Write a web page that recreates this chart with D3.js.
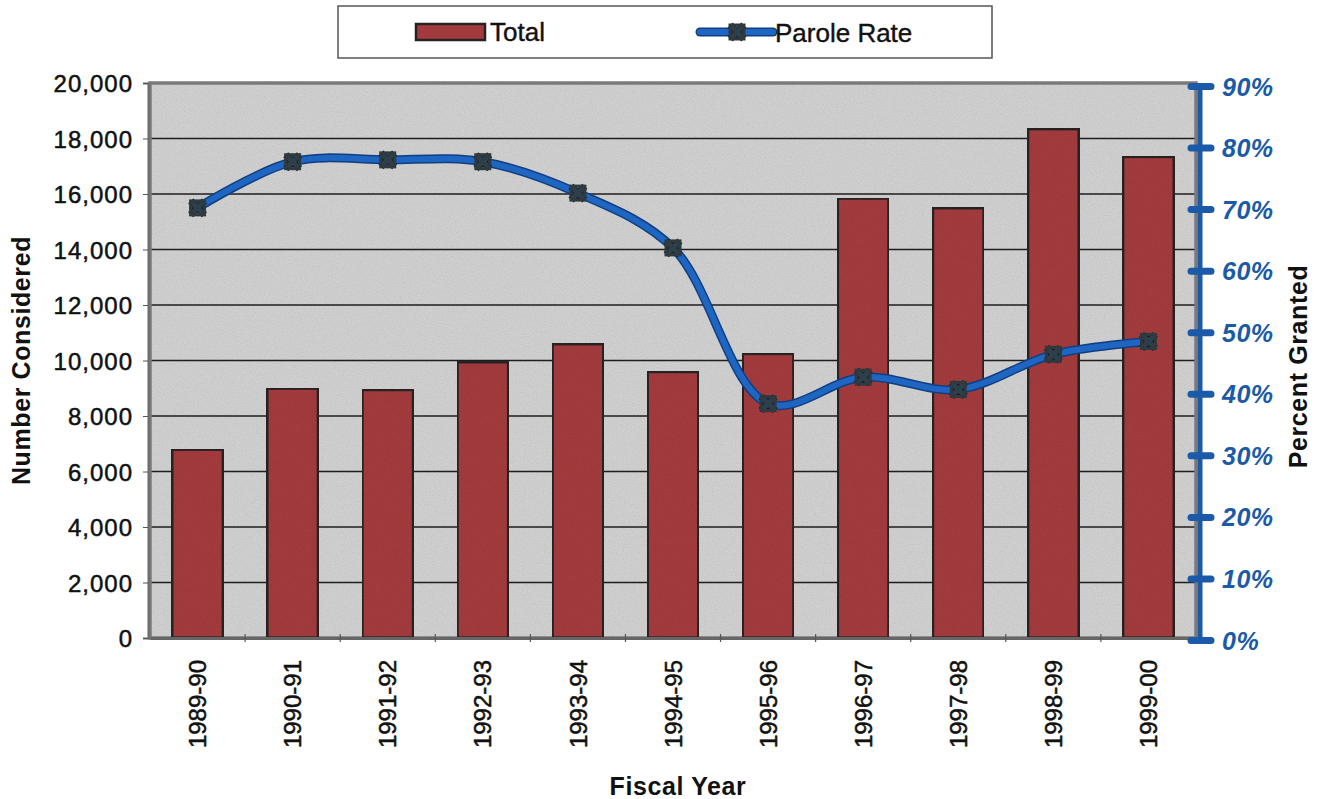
<!DOCTYPE html>
<html>
<head>
<meta charset="utf-8">
<script src="https://cdn.jsdelivr.net/npm/d3@7"></script>
<style>
  html, body { margin: 0; padding: 0; background: #fff; }
  svg { display: block; font-family: Arial, "Liberation Sans", sans-serif; }
</style>
</head>
<body>
<svg id="chart" width="1317" height="799"></svg>
<script>
// Parole hearings by fiscal year
const years = ["1989-90","1990-91","1991-92","1992-93","1993-94","1994-95","1995-96","1996-97","1997-98","1998-99","1999-00"];
const totals = [6800, 9000, 8950, 9950, 10600, 9600, 10250, 15850, 15500, 18350, 17350];
const paroleRate = [70.2, 77.7, 78.0, 77.7, 72.6, 63.7, 38.4, 42.7, 40.7, 46.4, 48.5];
const leftTicks = [0, 2000, 4000, 6000, 8000, 10000, 12000, 14000, 16000, 18000, 20000];
const rightTicks = [0, 10, 20, 30, 40, 50, 60, 70, 80, 90];

const svg = d3.select("#chart");
const plot = { left: 150, right: 1196, top: 83, bottom: 638 };

const x = d3.scaleBand().domain(years).range([plot.left, plot.right]).paddingInner(0.46).paddingOuter(0.23);
const yL = d3.scaleLinear().domain([0, 20000]).range([plot.bottom, plot.top]);
const yR = d3.scaleLinear().domain([0, 90]).range([plot.bottom + 2, plot.top + 3]);

const defs = svg.append("defs");
// grainy print texture for the plot area and bars
const grain = defs.append("filter").attr("id", "grain").attr("x", 0).attr("y", 0).attr("width", 1).attr("height", 1);
grain.append("feTurbulence").attr("type", "fractalNoise").attr("baseFrequency", 0.9).attr("numOctaves", 2).attr("seed", 3).attr("result", "noise");
grain.append("feColorMatrix").attr("in", "noise").attr("type", "matrix")
  .attr("values", "0 0 0 0 0  0 0 0 0 0  0 0 0 0 0  0 0 0 -1.6 1.05").attr("result", "dots");
grain.append("feComposite").attr("in", "dots").attr("in2", "SourceGraphic").attr("operator", "in").attr("result", "clipped");
grain.append("feComponentTransfer").attr("in", "clipped").attr("result", "soft")
  .append("feFuncA").attr("type", "linear").attr("slope", 0.16);
const merge = grain.append("feMerge");
merge.append("feMergeNode").attr("in", "SourceGraphic");
merge.append("feMergeNode").attr("in", "soft");

// plot background
svg.append("rect")
  .attr("x", plot.left).attr("y", plot.top)
  .attr("width", plot.right - plot.left).attr("height", plot.bottom - plot.top)
  .attr("fill", "#d0d0d0").attr("filter", "url(#grain)");

// gridlines
svg.append("g").selectAll("line").data(leftTicks.filter(d => d > 0 && d < 20000)).join("line")
  .attr("x1", plot.left).attr("x2", plot.right)
  .attr("y1", d => yL(d)).attr("y2", d => yL(d))
  .attr("stroke", "#1e1e1e").attr("stroke-width", 1.4);

// frame
svg.append("rect")
  .attr("x", plot.left).attr("y", plot.top)
  .attr("width", plot.right - plot.left).attr("height", plot.bottom - plot.top)
  .attr("fill", "none").attr("stroke", "#7a7a7a").attr("stroke-width", 3.5);

// bars
svg.append("g").selectAll("rect").data(years).join("rect")
  .attr("x", d => x(d)).attr("width", x.bandwidth())
  .attr("y", (d, i) => yL(totals[i])).attr("height", (d, i) => yL(0) - yL(totals[i]))
  .attr("fill", "#a33b3e").attr("stroke", "#262222").attr("stroke-width", 3.2)
  .attr("filter", "url(#grain)");

// left axis
const gL = svg.append("g").attr("transform", `translate(${plot.left - 2},0)`)
  .call(d3.axisLeft(yL).tickValues(leftTicks).tickFormat(d3.format(",")).tickSize(5).tickPadding(10));
gL.select(".domain").attr("stroke", "#6a6a6a").attr("stroke-width", 2);
gL.selectAll(".tick line").attr("stroke", "#555");
gL.selectAll(".tick text").attr("font-size", 24).attr("fill", "#111").attr("dy", "0.36em")
  .attr("letter-spacing", 1).attr("stroke", "#111").attr("stroke-width", 0.5);

// x axis
const gX = svg.append("g").attr("transform", `translate(0,${plot.bottom})`)
  .call(d3.axisBottom(x).tickSize(0).tickPadding(0));
gX.select(".domain").attr("stroke", "#666").attr("stroke-width", 3);
gX.selectAll(".tick text")
  .attr("font-size", 24).attr("fill", "#111")
  .attr("stroke", "#111").attr("stroke-width", 0.5)
  .attr("transform", "rotate(-90)")
  .attr("text-anchor", "end").attr("x", -22).attr("y", 0).attr("dy", "0.36em");
// small category separators under the frame
svg.append("g").selectAll("line").data(years.slice(1)).join("line")
  .attr("x1", d => x(d) - x.step() * x.paddingInner() / 2).attr("x2", d => x(d) - x.step() * x.paddingInner() / 2)
  .attr("y1", plot.bottom - 4).attr("y2", plot.bottom + 4)
  .attr("stroke", "#555").attr("stroke-width", 1.2);

// right axis (blue)
const blue = "#1b5aa8";
const gR = svg.append("g").attr("transform", `translate(${plot.right + 4},0)`)
  .call(d3.axisRight(yR).tickValues(rightTicks).tickFormat(d => d + "%").tickSize(0).tickPadding(22));
gR.select(".domain").remove();
gR.append("line").attr("y1", yR(0)).attr("y2", yR(90)).attr("stroke", blue).attr("stroke-width", 5);
gR.selectAll(".tick").append("line")
  .attr("x1", -9).attr("x2", 11).attr("stroke", blue).attr("stroke-width", 7).attr("stroke-linecap", "round");
gR.selectAll(".tick text")
  .attr("font-size", 25).attr("font-style", "italic").attr("font-weight", "bold")
  .attr("fill", blue).attr("dy", "0.36em").attr("letter-spacing", 0.5);

// parole rate line
const cx = (d, i) => x(years[i]) + x.bandwidth() / 2;
const line = d3.line().x(cx).y(d => yR(d)).curve(d3.curveCatmullRom.alpha(0.5));
svg.append("path").datum(paroleRate).attr("d", line)
  .attr("fill", "none").attr("stroke", "#0f3f80").attr("stroke-width", 9).attr("stroke-linecap", "round");
svg.append("path").datum(paroleRate).attr("d", line)
  .attr("fill", "none").attr("stroke", "#1f66c2").attr("stroke-width", 6).attr("stroke-linecap", "round");

// star-shaped markers
const markerSym = d3.symbol().type(d3.symbolCross).size(190);
const mk = svg.append("g").selectAll("g").data(paroleRate).join("g")
  .attr("transform", (d, i) => `translate(${cx(d, i)},${yR(d)})`);
mk.append("path").attr("d", markerSym()).attr("transform", "rotate(45)")
  .attr("fill", "#2d3f4a").attr("stroke", "#1a1a1a").attr("stroke-width", 1);
mk.append("rect").attr("x", -7).attr("y", -7).attr("width", 14).attr("height", 14)
  .attr("fill", "none").attr("stroke", "#2f3a3f").attr("stroke-width", 3);

// axis titles
const titleStyle = sel => sel.attr("text-anchor", "middle").attr("font-size", 25).attr("font-weight", "bold")
  .attr("fill", "#111").attr("letter-spacing", 0.6);
svg.append("text").attr("transform", `translate(30,${(plot.top + plot.bottom) / 2}) rotate(-90)`)
  .call(titleStyle).text("Number Considered");
svg.append("text").attr("transform", `translate(1307,${(plot.top + plot.bottom) / 2 + 6}) rotate(-90)`)
  .call(titleStyle).text("Percent Granted");
svg.append("text").attr("x", 678).attr("y", 795)
  .call(titleStyle).text("Fiscal Year");

// legend
const lg = svg.append("g");
lg.append("rect").attr("x", 338).attr("y", 6).attr("width", 654).attr("height", 52)
  .attr("fill", "#fff").attr("stroke", "#555").attr("stroke-width", 1.5);
lg.append("rect").attr("x", 416).attr("y", 24).attr("width", 69).attr("height", 16)
  .attr("fill", "#a33b3e").attr("stroke", "#262222").attr("stroke-width", 2.5);
lg.append("text").attr("x", 490).attr("y", 41).attr("font-size", 26).attr("fill", "#111")
  .attr("stroke", "#111").attr("stroke-width", 0.4).text("Total");
lg.append("line").attr("x1", 700).attr("x2", 773).attr("y1", 32).attr("y2", 32)
  .attr("stroke", "#0f3f80").attr("stroke-width", 9).attr("stroke-linecap", "round");
lg.append("line").attr("x1", 700).attr("x2", 773).attr("y1", 32).attr("y2", 32)
  .attr("stroke", "#1f66c2").attr("stroke-width", 6).attr("stroke-linecap", "round");
const lm = lg.append("g").attr("transform", "translate(737,32)");
lm.append("path").attr("d", markerSym()).attr("transform", "rotate(45)")
  .attr("fill", "#2d3f4a").attr("stroke", "#1a1a1a").attr("stroke-width", 1);
lm.append("rect").attr("x", -7).attr("y", -7).attr("width", 14).attr("height", 14)
  .attr("fill", "none").attr("stroke", "#2f3a3f").attr("stroke-width", 3);
lg.append("text").attr("x", 775).attr("y", 42).attr("font-size", 26).attr("fill", "#111")
  .attr("stroke", "#111").attr("stroke-width", 0.4).text("Parole Rate");
</script>
</body>
</html>
